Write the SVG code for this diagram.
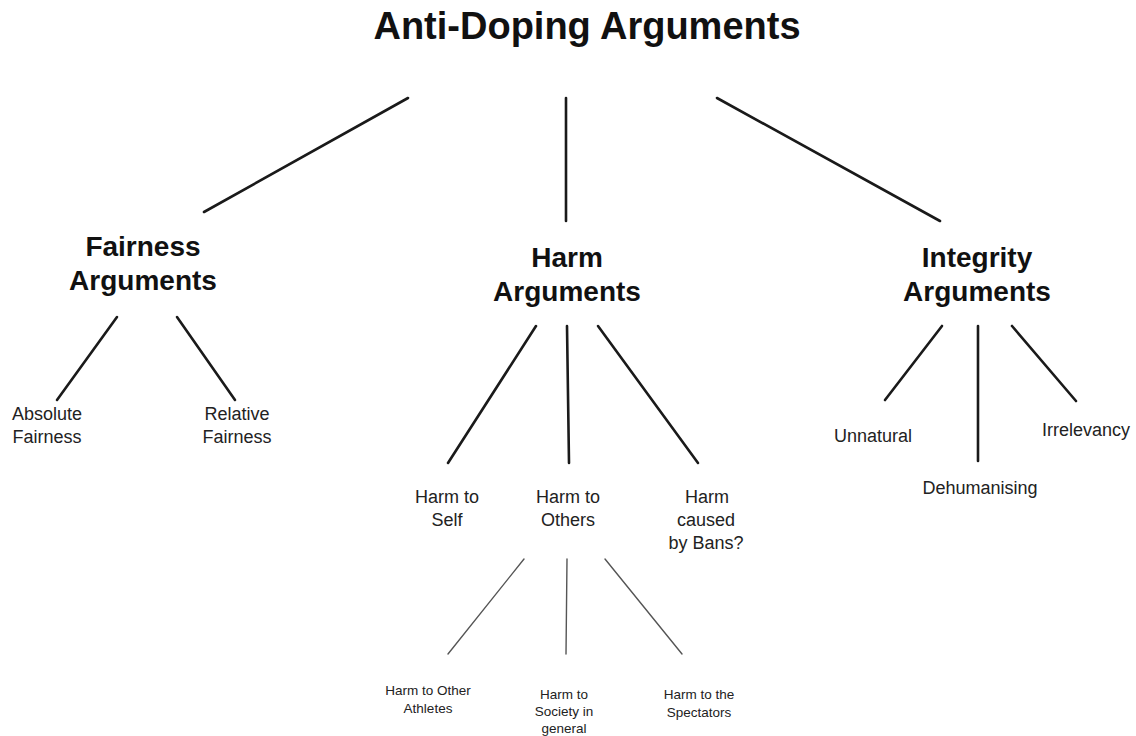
<svg xmlns="http://www.w3.org/2000/svg" width="1136" height="736" viewBox="0 0 1136 736">
<style>
text{font-family:"Liberation Sans",Arial,Helvetica,sans-serif;fill:#111;text-anchor:middle}
.t{font-size:38px;font-weight:bold}
.h{font-size:28px;font-weight:bold}
.n{font-size:18px;fill:#222}
.s{font-size:13.5px;fill:#222}
.c line{stroke:#1a1a1a;stroke-width:2.6;stroke-linecap:round}
.c .thin{stroke:#555;stroke-width:1.4}
</style>
<rect width="1136" height="736" fill="#fff"/>
<g class="c" id="connectors">
<line x1="408" y1="98" x2="204" y2="212"/>
<line x1="566" y1="98" x2="566" y2="221"/>
<line x1="717" y1="98" x2="940" y2="221"/>
<line x1="117" y1="317" x2="57" y2="400"/>
<line x1="177" y1="317" x2="235" y2="400"/>
<line x1="536" y1="326" x2="448" y2="463"/>
<line x1="567" y1="326" x2="569" y2="463"/>
<line x1="598" y1="326" x2="698" y2="463"/>
<line x1="942" y1="326" x2="885" y2="400"/>
<line x1="978" y1="326" x2="978" y2="461"/>
<line x1="1012" y1="326" x2="1076" y2="401"/>
<line class="thin" x1="524" y1="559" x2="448" y2="654"/>
<line class="thin" x1="567" y1="559" x2="566" y2="654"/>
<line class="thin" x1="605" y1="559" x2="682" y2="654"/>
</g>
<g id="root"><text class="t" x="587" y="39">Anti-Doping Arguments</text></g>
<g id="fairness"><text class="h" x="143" y="256">Fairness</text><text class="h" x="143" y="290">Arguments</text></g>
<g id="harm"><text class="h" x="567" y="267">Harm</text><text class="h" x="567" y="301">Arguments</text></g>
<g id="integrity"><text class="h" x="977" y="267">Integrity</text><text class="h" x="977" y="301">Arguments</text></g>
<g id="absolute"><text class="n" x="47" y="420">Absolute</text><text class="n" x="47" y="443">Fairness</text></g>
<g id="relative"><text class="n" x="237" y="420">Relative</text><text class="n" x="237" y="443">Fairness</text></g>
<g id="self"><text class="n" x="447" y="503">Harm to</text><text class="n" x="447" y="526">Self</text></g>
<g id="others"><text class="n" x="568" y="503">Harm to</text><text class="n" x="568" y="526">Others</text></g>
<g id="bans"><text class="n" x="707" y="503">Harm</text><text class="n" x="706" y="526">caused</text><text class="n" x="706" y="549">by Bans?</text></g>
<g id="unnatural"><text class="n" x="873" y="442">Unnatural</text></g>
<g id="dehumanising"><text class="n" x="980" y="494">Dehumanising</text></g>
<g id="irrelevancy"><text class="n" x="1086" y="436">Irrelevancy</text></g>
<g id="athletes"><text class="s" x="428" y="695">Harm to Other</text><text class="s" x="428" y="713">Athletes</text></g>
<g id="society"><text class="s" x="564" y="699">Harm to</text><text class="s" x="564" y="716">Society in</text><text class="s" x="564" y="733">general</text></g>
<g id="spectators"><text class="s" x="699" y="699">Harm to the</text><text class="s" x="699" y="717">Spectators</text></g>
</svg>
